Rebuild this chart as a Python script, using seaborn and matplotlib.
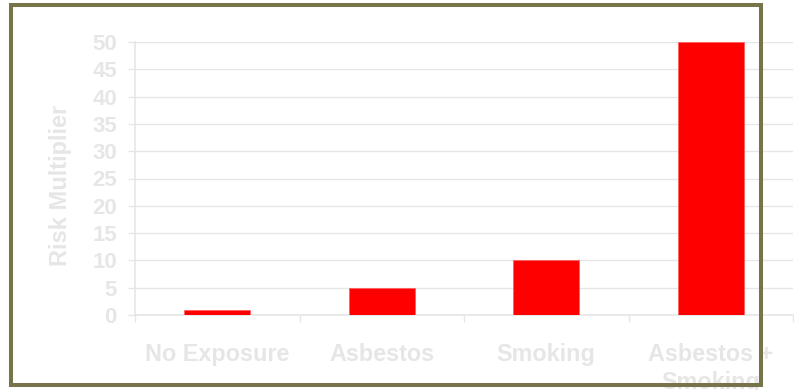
import pandas as pd
import seaborn as sns
import matplotlib.pyplot as plt
from matplotlib.patches import Rectangle

# Data
categories = ["No Exposure", "Asbestos", "Smoking", "Asbestos +\nSmoking"]
risk = [1, 5, 10, 50]

df = pd.DataFrame({"exposure": categories, "risk": risk})

sns.set_style("white")
plt.rcParams["font.family"] = ["Liberation Sans", "DejaVu Sans"]
plt.rcParams["font.weight"] = "bold"

light = "#e6e6e6"

fig = plt.figure(figsize=(7.94, 3.9), dpi=100)
ax = fig.add_axes([135 / 794, 1 - 315 / 390, 658 / 794, 273 / 390])

sns.barplot(data=df, x="exposure", y="risk", color="#ff0000", saturation=1,
            width=0.4, edgecolor="#ff6060", linewidth=0.6, ax=ax, zorder=3)

ax.set_xlim(-0.5, 3.5)
ax.set_ylim(0, 50)
ax.set_yticks(range(0, 51, 5))
ax.yaxis.grid(True, color=light, linewidth=1, zorder=0)
ax.set_axisbelow(True)

for s in ["top", "right"]:
    ax.spines[s].set_visible(False)
for s in ["left", "bottom"]:
    ax.spines[s].set_color(light)
    ax.spines[s].set_linewidth(1.2)

ax.tick_params(axis="y", which="major", direction="out", length=5, width=1,
               color=light, pad=8, labelsize=16, labelcolor=light, left=True)
ax.set_xticks([0, 1, 2, 3])
ax.set_xticklabels(categories, fontsize=16.8, color=light, fontweight="bold",
                   linespacing=1.3, va="top")
ax.set_xticks([-0.5, 0.5, 1.5, 2.5, 3.5], minor=True)
ax.tick_params(axis="x", which="major", length=0, pad=20)
ax.tick_params(axis="x", which="minor", direction="out", length=5, width=1,
               color=light, bottom=True)

for lab in ax.get_yticklabels():
    lab.set_fontweight("bold")

ax.set_xlabel("")
ax.set_ylabel("Risk Multiplier", fontsize=17, color=light, fontweight="bold")
ax.yaxis.set_label_coords(-0.096, 0.475)

# outer frame
frame = Rectangle((11 / 794, 1 - 385 / 390), 750 / 794, 380.5 / 390,
                  transform=fig.transFigure, fill=False, edgecolor="#767448",
                  linewidth=2.9, zorder=10)
fig.patches.append(frame)

fig.savefig("out.png", dpi=100)
